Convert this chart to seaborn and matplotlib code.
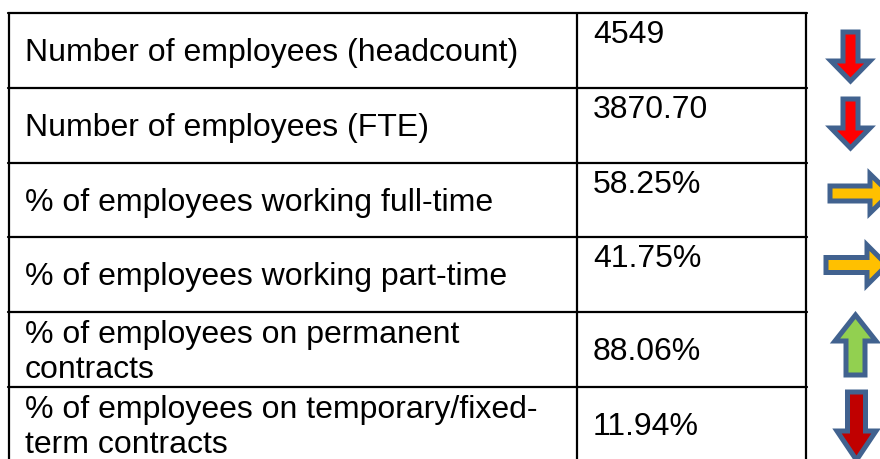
import seaborn as sns
import matplotlib.pyplot as plt
from matplotlib.patches import Polygon

# Table content
labels = [
    "Number of employees (headcount)",
    "Number of employees (FTE)",
    "% of employees working full-time",
    "% of employees working part-time",
    "% of employees on permanent\ncontracts",
    "% of employees on temporary/fixed-\nterm contracts",
]
values = ["4549", "3870.70", "58.25%", "41.75%", "88.06%", "11.94%"]
trends = ["down", "down", "right", "right", "up", "down"]
trend_colors = ["#FF0000", "#FF0000", "#FFC000", "#FFC000", "#92D050", "#C00000"]

sns.set_theme(style="white")
plt.rcParams['font.family'] = ['Liberation Sans', 'DejaVu Sans']

fig = plt.figure(figsize=(8.8, 4.59), dpi=100)
ax = fig.add_axes([0, 0, 1, 1])
ax.set_xlim(0, 880)
ax.set_ylim(459, 0)
ax.axis('off')

# table grid (pixel layout)
row_tops = [13, 88, 163, 237, 312, 387]
x_left, x_mid, x_right = 9, 577, 806
lw = 1.6
for y in row_tops:
    ax.plot([x_left - 1, x_right + 1], [y, y], color='black', lw=lw)
for x in (x_left, x_mid, x_right):
    ax.plot([x, x], [row_tops[0], 470], color='black', lw=lw, solid_capstyle='butt')

fs = 23
for i, (lab, val) in enumerate(zip(labels, values)):
    top = row_tops[i]
    if "\n" in lab:
        l1, l2 = lab.split("\n")
        ax.text(25, top + 31, l1, fontsize=fs, va='baseline', ha='left', color='black')
        ax.text(25, top + 66, l2, fontsize=fs, va='baseline', ha='left', color='black')
        ax.text(593, top + 48, val, fontsize=fs, va='baseline', ha='left', color='black')
    else:
        ax.text(25, top + 48, lab, fontsize=fs, va='baseline', ha='left', color='black')
        ax.text(593, top + 30, val, fontsize=fs, va='baseline', ha='left', color='black')


def block_arrow(direction, x0, y0, x1, y1, shaft, head):
    # polygon for a block arrow inside the box (x0,y0)-(x1,y1)
    s = shaft / 2
    if direction in ("down", "up"):
        cx = (x0 + x1) / 2
        if direction == "down":
            hb = y1 - head
            pts = [(cx - s, y0), (cx + s, y0), (cx + s, hb), (x1, hb),
                   (cx, y1), (x0, hb), (cx - s, hb)]
        else:
            hb = y0 + head
            pts = [(cx - s, y1), (cx + s, y1), (cx + s, hb), (x1, hb),
                   (cx, y0), (x0, hb), (cx - s, hb)]
    else:
        cy = (y0 + y1) / 2
        hb = x1 - head
        pts = [(x0, cy - s), (x0, cy + s), (hb, cy + s), (hb, y1),
               (x1, cy), (hb, y0), (hb, cy - s)]
    return pts


# arrow boxes (layout), inset for the outline
boxes = [
    (831, 32, 870, 81, 15, 20),
    (831, 99, 870, 148, 15, 20),
    (830, 174, 890, 213, 15, 20),
    (826, 245, 887, 285, 15, 20),
    (835, 315, 876, 375, 19, 26),
    (837, 392, 876, 460, 18, 29),
]
for d, c, (x0, y0, x1, y1, sh, hd) in zip(trends, trend_colors, boxes):
    ax.add_patch(Polygon(block_arrow(d, x0, y0, x1, y1, sh, hd), closed=True,
                         facecolor=c, edgecolor='#41628F', lw=3.6,
                         joinstyle='miter'))

fig.savefig('out.png', dpi=100)
